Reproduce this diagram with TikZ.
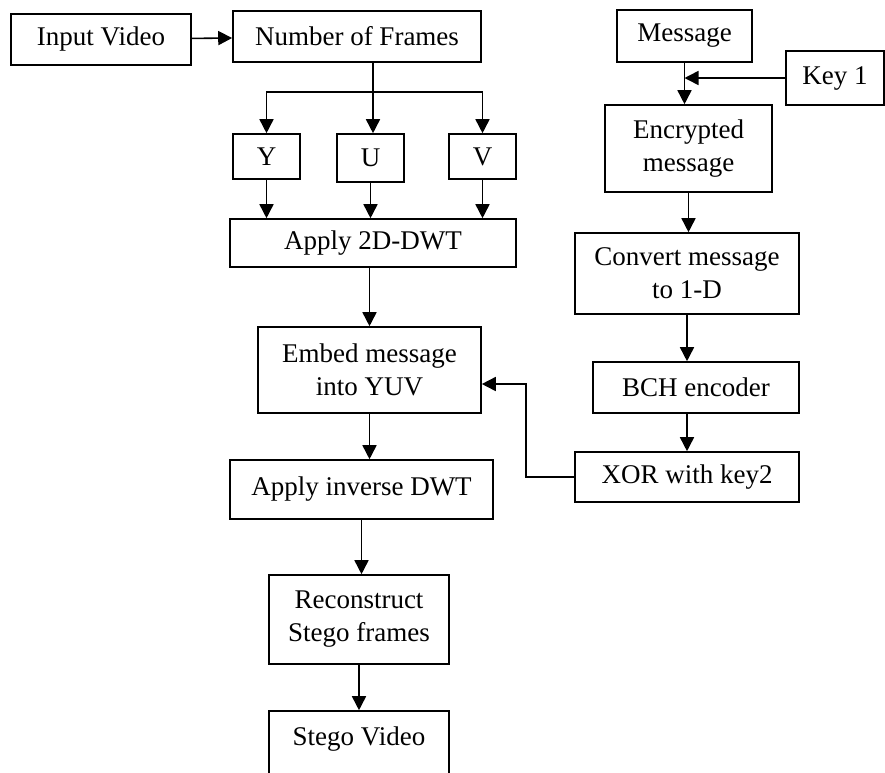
\documentclass[tikz,border=0pt]{standalone}
\usepackage{fontspec}
\setmainfont{Liberation Serif}
\usetikzlibrary{arrows.meta}

\begin{document}
\begin{tikzpicture}[x=1pt,y=-1pt,
	blk/.style={draw,line width=1.6pt,align=center,inner sep=0pt,font=\fontsize{27}{33}\selectfont},
	arr/.style={line width=1.6pt,-{Triangle[length=14pt,width=14pt]}}]

	\useasboundingbox (0,0) rectangle (885,772);

	\coordinate (split) at (373,92);

	\node[blk,minimum width=180pt,minimum height=51pt] (invid) at (101,39.5) {Input Video};
	\node[blk,minimum width=248pt,minimum height=51pt] (nframes) at (357,36.5) {Number of Frames};
	\node[blk,minimum width=67pt,minimum height=45pt] (Y) at (266.5,156.5) {Y};
	\node[blk,minimum width=67pt,minimum height=48pt] (U) at (370.5,158) {U};
	\node[blk,minimum width=67pt,minimum height=45pt] (V) at (482.5,156.5) {V};
	\node[blk,minimum width=286pt,minimum height=48pt] (dwt) at (373,243) {Apply 2D-DWT};
	\node[blk,minimum width=223pt,minimum height=86pt] (embed) at (369.5,370) {Embed message\\into YUV};
	\node[blk,minimum width=263pt,minimum height=59pt] (idwt) at (361.5,489.5) {Apply inverse DWT};
	\node[blk,minimum width=180pt,minimum height=89pt] (recon) at (359,619.5) {Reconstruct\\Stego frames};
	\node[blk,minimum width=180pt,minimum height=90pt,text depth=40pt] (stego) at (359,756) {Stego Video};

	\node[blk,minimum width=135pt,minimum height=52pt] (msg) at (684.5,36) {Message};
	\node[blk,minimum width=98pt,minimum height=54pt] (key1) at (835,78) {Key 1};
	\node[blk,minimum width=167pt,minimum height=87pt] (enc) at (688.5,148.5) {Encrypted\\message};
	\node[blk,minimum width=224pt,minimum height=81pt] (conv) at (687,273.5) {Convert message\\to 1-D};
	\node[blk,minimum width=206pt,minimum height=51pt] (bch) at (696,387.5) {BCH encoder};
	\node[blk,minimum width=224pt,minimum height=50pt] (xor) at (687,477) {XOR with key2};

	\draw[arr] (invid) -- (nframes);
	\draw[arr] (nframes.south -| split) -- (U.north -| split);
	\draw[arr] (split) -| (Y.north);
	\draw[arr] (split) -| (V.north);
	\draw[arr] (Y.south) -- (Y.south |- dwt.north);
	\draw[arr] (U.south) -- (U.south |- dwt.north);
	\draw[arr] (V.south) -- (V.south |- dwt.north);
	\draw[arr] (embed.north |- dwt.south) -- (embed.north);
	\draw[arr] (embed.south) -- (embed.south |- idwt.north);
	\draw[arr] (idwt.south) -- (idwt.south |- recon.north);
	\draw[arr] (recon.south) -- (stego.north);

	\draw[arr] (msg.south) -- (msg.south |- enc.north);
	\draw[arr] (key1.west) -- (msg.south |- key1.west);
	\draw[arr] (enc.south) -- (enc.south |- conv.north);
	\draw[arr] (conv.south) -- (conv.south |- bch.north);
	\draw[arr] (conv.south |- bch.south) -- (conv.south |- xor.north);
	\draw[arr] (xor.west) -- ++(-48,0) |- ([yshift=-14pt]embed.east);

\end{tikzpicture}
\end{document}
